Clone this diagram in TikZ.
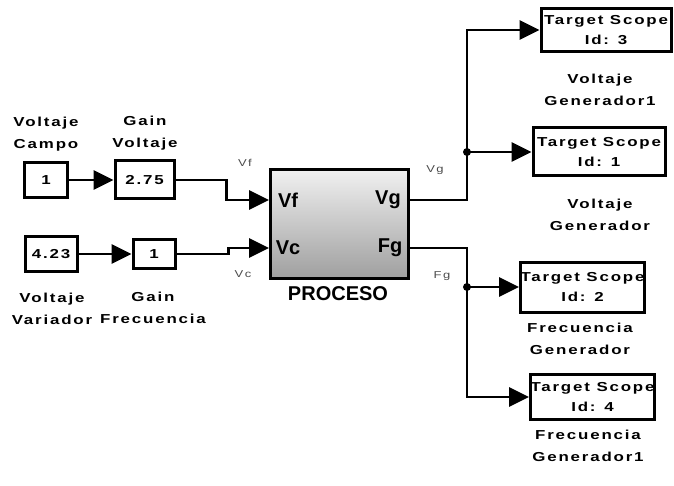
\documentclass[tikz,border=0pt]{standalone}
\usepackage{fontspec}
\setmainfont{Liberation Sans}
\newfontfamily\lblfont{Liberation Sans}[FakeStretch=1.3,LetterSpace=14]
\usetikzlibrary{arrows.meta}
\tikzset{
  blk/.style={draw=black,line width=3pt,fill=white,inner sep=0pt,font=\lblfont\bfseries\fontsize{13}{14}\selectfont},
  scopebox/.style={blk,align=center,font=\lblfont\bfseries\fontsize{13}{20}\selectfont},
  lbl/.style={align=center,inner sep=0pt,font=\lblfont\bfseries\fontsize{13}{22}\selectfont},
  sml/.style={inner sep=0pt,text=black!70,font=\lblfont\fontsize{10}{11}\selectfont},
  port/.style={inner sep=0pt,font=\bfseries\fontsize{20}{22}\selectfont},
  wire/.style={line width=2.8pt},
  sig/.style={wire,-{Triangle[length=20pt,width=19pt]}},
  dot/.style={circle,fill=black,inner sep=0pt,minimum size=8pt}
}
\begin{document}
\begin{tikzpicture}[x=1pt,y=-1pt]
\useasboundingbox (0,0) rectangle (674,486);
% sources and gains
\node[blk,minimum width=43pt,minimum height=35pt] (c1) at (46,180) {1};
\node[blk,minimum width=59pt,minimum height=38pt] (g1) at (144.5,180) {2.75};
\node[blk,minimum width=52pt,minimum height=35pt] (c2) at (51,254) {4.23};
\node[blk,minimum width=42pt,minimum height=29pt] (g2) at (154,254) {1};
\node[lbl] (lc1) at (46,134) {Voltaje\\Campo};
\node[lbl] (lg1) at (145,133) {Gain\\Voltaje};
\node[lbl] (lc2) at (52,309) {Voltaje\\Variador};
\node[lbl] (lg2) at (153,308) {Gain\\Frecuencia};
% process block
\node[draw=black,line width=3pt,minimum width=138pt,minimum height=108pt,inner sep=0pt,
      top color=gray!12,bottom color=gray!75] (proc) at (339,224) {};
\node[port] (pvf) at (288,200) {Vf};
\node[port] (pvg) at (388,200) {Vg};
\node[port] (pvc) at (288,248) {Vc};
\node[port] (pfg) at (390,248) {Fg};
\node[inner sep=0pt,font=\bfseries\fontsize{20}{22}\selectfont] (plbl) at (338,294) {PROCESO};
\coordinate (vfin) at (269,200);
\coordinate (vcin) at (269,248);
\coordinate (vgout) at (409,200);
\coordinate (fgout) at (409,248);
% scopes
\node[scopebox,minimum width=130pt,minimum height=43pt] (s3) at (606,30) {Target Scope\\Id: 3};
\node[scopebox,minimum width=132pt,minimum height=48pt] (s1) at (599,152) {Target Scope\\Id: 1};
\node[scopebox,minimum width=119pt,minimum height=50pt] (s2) at (582.5,287) {Target Scope\\Id: 2};
\node[scopebox,minimum width=121pt,minimum height=45pt] (s4) at (592.5,397) {Target Scope\\Id: 4};
\node[lbl] (ls3) at (600,90) {Voltaje\\Generador1};
\node[lbl] (ls1) at (600,215) {Voltaje\\Generador};
\node[lbl] (ls2) at (580,339) {Frecuencia\\Generador};
\node[lbl] (ls4) at (588,446) {Frecuencia\\Generador1};
% junctions
\node[dot] (j1) at (467,152) {};
\node[dot] (j2) at (467,287) {};
% wire labels
\node[sml] (lvf) at (245,163) {Vf};
\node[sml] (lvc) at (243,274) {Vc};
\node[sml] (lvg) at (435,170) {Vg};
\node[sml] (lfg) at (442,276) {Fg};
% connectors
\draw[sig] (c1.east) -- (g1.west);
\draw[sig] (c2.east) -- (g2.west);
\draw[sig] (g1.east) -- ++(51,0) |- (vfin);
\draw[sig] (g2.east) -- ++(52,0) |- (vcin);
\draw[wire] (vgout) -| (j1.center);
\draw[sig] (j1.center) |- (s3.west);
\draw[sig] (j1.center) -- (s1.west);
\draw[wire] (fgout) -| (j2.center);
\draw[sig] (j2.center) -- (s2.west);
\draw[sig] (j2.center) |- (s4.west);
\end{tikzpicture}
\end{document}
